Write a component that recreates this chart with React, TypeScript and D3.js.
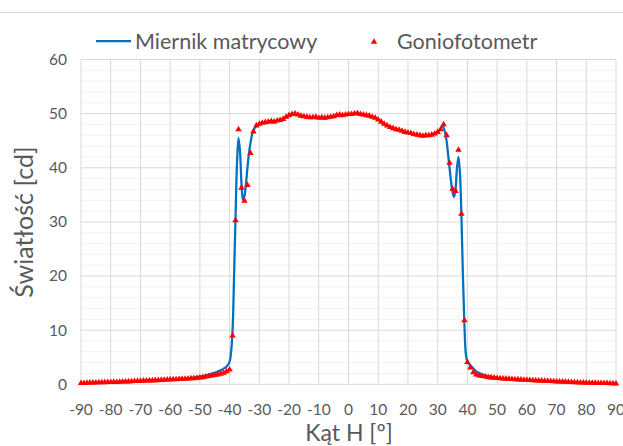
import React from 'react'
import * as d3 from 'd3'

const W = 623
const H = 446

// Miernik matrycowy (line) — angle [deg], value [cd]
const matrixAngles = [
  -90, -85, -80, -75, -70, -65, -60, -55, -50, -47, -45, -43, -42, -41, -40, -39.5, -39, -38.5, -38, -37.5,
  -37, -36.5, -36, -35.5, -35, -34.5, -34, -33.5, -33, -32.5, -32, -31, -30, -29, -28, -27, -26, -25, -24, -23,
  -22, -21, -20, -19, -18, -17, -16, -15, -14, -13, -12, -11, -10, -9, -8, -7, -6, -5, -4, -3,
  -2, -1, 0, 1, 2, 3, 4, 5, 6, 7, 8, 9, 10, 11, 12, 13, 14, 15, 16, 17,
  18, 19, 20, 21, 22, 23, 24, 25, 26, 27, 28, 29, 30, 31, 31.7, 32.5, 33, 33.5, 34, 34.5,
  35, 35.5, 36, 36.5, 37, 37.5, 38, 38.5, 39, 39.5, 40, 40.5, 41, 42, 43, 44, 45, 47, 50, 55,
  60, 65, 70, 75, 80, 85, 90,
]
const matrixValues = [
  0.15, 0.25, 0.35, 0.5, 0.6, 0.75, 0.85, 1.05, 1.4, 1.8, 2.1, 2.6, 2.9, 3.3, 4.2, 6, 10, 20, 31, 41,
  45.5, 43, 37, 34.1, 34.8, 37, 40, 42.6, 44.5, 46, 46.9, 47.7, 48.1, 48.3, 48.3, 48.5, 48.6, 48.5, 48.7, 48.8,
  49.0, 49.4, 49.7, 49.9, 50.0, 49.8, 49.6, 49.4, 49.3, 49.3, 49.2, 49.3, 49.2, 49.2, 49.1, 49.3, 49.4, 49.5, 49.7, 49.8,
  49.7, 49.8, 49.8, 49.9, 50.0, 50.1, 49.9, 49.8, 49.7, 49.5, 49.4, 49.2, 48.9, 48.5, 48.1, 47.8, 47.5, 47.3, 47.1, 47.0,
  46.8, 46.6, 46.5, 46.4, 46.2, 46.1, 46.0, 45.9, 45.9, 46.0, 46.1, 46.3, 46.6, 47.2, 47.7, 46.5, 45, 42.5, 40, 37.5,
  35.5, 34.6, 36, 40, 42, 39, 31, 20, 11, 5.5, 4.2, 3.8, 3.5, 2.9, 2.4, 2.1, 1.8, 1.5, 1.2, 0.95,
  0.75, 0.6, 0.45, 0.35, 0.25, 0.18, 0.1,
]

// Goniofotometr (markers) — every 1 deg from -90 to 90
const gonioAngles = d3.range(-90, 91, 1)
const gonioValues = [
  0.1, 0.12, 0.15, 0.2, 0.2, 0.22, 0.25, 0.25, 0.28, 0.3,
  0.3, 0.32, 0.3, 0.35, 0.38, 0.4, 0.42, 0.45, 0.48, 0.5,
  0.52, 0.55, 0.58, 0.6, 0.6, 0.65, 0.65, 0.7, 0.72, 0.75,
  0.78, 0.8, 0.82, 0.85, 0.88, 0.9, 0.95, 1.0, 1.02, 1.08,
  1.15, 1.2, 1.3, 1.4, 1.5, 1.6, 1.7, 1.85, 2.0, 2.3,
  2.6, 8.9, 30.2, 47.0, 36.2, 33.8, 36.7, 42.6, 46.6, 47.7,
  48.0, 48.2, 48.3, 48.4, 48.5, 48.4, 48.6, 48.7, 48.9, 49.3,
  49.6, 49.8, 49.9, 49.7, 49.5, 49.4, 49.3, 49.2, 49.2, 49.3,
  49.1, 49.2, 49.1, 49.2, 49.3, 49.4, 49.6, 49.7, 49.6, 49.7,
  49.8, 49.8, 49.9, 50.0, 49.8, 49.7, 49.6, 49.5, 49.3, 49.1,
  48.8, 48.4, 48.0, 47.7, 47.4, 47.2, 47.0, 46.9, 46.7, 46.5,
  46.4, 46.3, 46.1, 46.0, 45.9, 45.8, 45.9, 45.9, 46.0, 46.2,
  46.5, 47.0, 47.9, 45.9, 40.8, 36.0, 35.6, 43.2, 31.4, 11.7,
  4.0, 3.0, 2.1, 1.7, 1.5, 1.4, 1.3, 1.2, 1.15, 1.1,
  1.05, 1.0, 0.95, 0.92, 0.9, 0.85, 0.82, 0.78, 0.75, 0.72,
  0.7, 0.66, 0.63, 0.6, 0.57, 0.55, 0.52, 0.5, 0.47, 0.45,
  0.42, 0.4, 0.38, 0.35, 0.33, 0.3, 0.28, 0.25, 0.22, 0.2,
  0.18, 0.17, 0.15, 0.15, 0.12, 0.12, 0.1, 0.1, 0.08, 0.08,
  0.05,
]

const xTicks = [-90, -80, -70, -60, -50, -40, -30, -20, -10, 0, 10, 20, 30, 40, 50, 60, 70, 80, 90]
const yTicks = [0, 10, 20, 30, 40, 50, 60]
const yMinorTicks = [2, 4, 6, 8, 12, 14, 16, 18, 22, 24, 26, 28, 32, 34, 36, 38, 42, 44, 46, 48, 52, 54, 56, 58]

const FONT = 'Lato, "Open Sans", sans-serif'
const TEXT = '#595959'

export default function App() {
  const x = d3.scaleLinear().domain([-90, 90]).range([81, 616])
  const y = d3.scaleLinear().domain([0, 60]).range([384.3, 59.5])

  const matrix = matrixAngles.map((a, i) => [a, matrixValues[i]] as [number, number])
  const gonio = gonioAngles.map((a, i) => [a, gonioValues[i]] as [number, number])

  const line = d3.line<[number, number]>()
    .x(d => x(d[0]))
    .y(d => y(d[1]))
    .curve(d3.curveCatmullRom.alpha(0.5))

  const tri = d3.symbol().type(d3.symbolTriangle).size(18)()

  return (
    <svg width={W} height={H} style={{ position: 'absolute', left: 0, top: 0, background: '#fff' }}>
      <line x1={0} x2={W} y1={12.5} y2={12.5} stroke="#d9d9d9" />

      {/* minor gridlines */}
      {yMinorTicks.map(t => (
        <line key={'m' + t} x1={x(-90)} x2={x(90)} y1={y(t)} y2={y(t)} stroke="#f2f2f2" strokeWidth={1} />
      ))}
      {/* major gridlines */}
      {yTicks.map(t => (
        <line key={'y' + t} x1={x(-90)} x2={x(90)} y1={y(t)} y2={y(t)} stroke="#d9d9d9" strokeWidth={1} />
      ))}
      {xTicks.map(t => (
        <line key={'x' + t} x1={x(t)} x2={x(t)} y1={y(60)} y2={y(0)} stroke="#d9d9d9" strokeWidth={1} />
      ))}

      {/* tick labels */}
      {yTicks.map(t => (
        <text key={'yl' + t} x={67} y={y(t)} dy="0.35em" textAnchor="end" fontFamily={FONT} fontSize={15.5} fill={TEXT}>
          {t}
        </text>
      ))}
      {xTicks.map(t => (
        <text key={'xl' + t} x={x(t)} y={410} dy="0.35em" textAnchor="middle" fontFamily={FONT} fontSize={15.5} fill={TEXT}>
          {t}
        </text>
      ))}

      {/* series */}
      <path d={line(matrix) || ''} fill="none" stroke="#0070c0" strokeWidth={2.25} strokeLinejoin="round" />
      {gonio.map((d, i) => (
        <path key={'g' + i} d={tri || ''} transform={`translate(${x(d[0])},${y(d[1]) - 0.5})`} fill="#ff0000" />
      ))}

      {/* axis titles */}
      <text x={349} y={433} dy="0.35em" textAnchor="middle" fontFamily={FONT} fontSize={23} fill={TEXT}>
        Kąt H [º]
      </text>
      <text transform="translate(24,222) rotate(-90)" dy="0.35em" textAnchor="middle" fontFamily={FONT} fontSize={25} fill={TEXT}>
        Światłość [cd]
      </text>

      {/* legend */}
      <line x1={96} x2={131} y1={41} y2={41} stroke="#0070c0" strokeWidth={2.25} />
      <text x={135} y={41} dy="0.35em" fontFamily={FONT} fontSize={21.5} fill={TEXT}>Miernik matrycowy</text>
      <path d={tri || ''} transform="translate(374,42)" fill="#ff0000" />
      <text x={397} y={41} dy="0.35em" fontFamily={FONT} fontSize={21.5} fill={TEXT}>Goniofotometr</text>
    </svg>
  )
}
